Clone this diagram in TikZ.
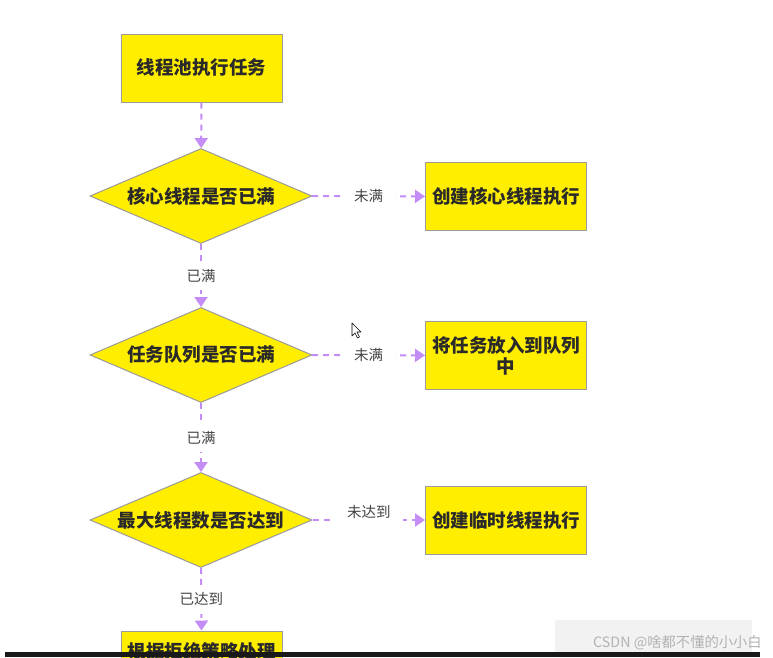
\documentclass[tikz,border=0pt]{standalone}
\usepackage{fontspec}
\newfontfamily\cjk{Noto Sans CJK SC}
\usetikzlibrary{shapes.geometric,arrows.meta}
\definecolor{boxyellow}{HTML}{FFEE00}
\definecolor{boxborder}{HTML}{9A9A9A}
\definecolor{arrowpurple}{HTML}{C48CF5}
\definecolor{textdark}{HTML}{2A2A2A}
\definecolor{labgray}{HTML}{444444}
\tikzset{
  box/.style={draw=boxborder, line width=1pt, fill=boxyellow, minimum width=161pt, minimum height=68pt, inner sep=2pt, text width=152pt, align=center, font=\cjk\bfseries\fontsize{18.5}{21}\selectfont, text=textdark},
  dia/.style={shape=diamond, draw=boxborder, line width=1pt, fill=boxyellow, minimum width=222pt, minimum height=95pt, inner sep=0pt, aspect=2.34, font=\cjk\bfseries\fontsize{18.5}{22}\selectfont, text=textdark},
  lab/.style={fill=white, inner xsep=12pt, inner ysep=8pt, font=\cjk\fontsize{14.5}{17}\selectfont, text=labgray},
  arr/.style={draw=arrowpurple, line width=2pt, dash pattern=on 6pt off 5pt, -{Triangle[width=13pt,length=10pt]}},
}
\begin{document}
\begin{tikzpicture}[x=1pt,y=-1pt]
\useasboundingbox (0,0) rectangle (773,657);
\fill[white] (0,0) rectangle (773,657);

\node[box] (start) at (201.5,68) {线程池执行任务};
\node[dia] (d1) at (201,196) {核心线程是否已满};
\node[dia] (d2) at (201,355) {任务队列是否已满};
\node[dia] (d3) at (201,520) {最大线程数是否达到};
\node[box] (b1) at (506,196.5) {创建核心线程执行};
\node[box] (b2) at (506,355.5) {将任务放入到队列\\中};
\node[box] (b3) at (506,520) {创建临时线程执行};
\node[box, minimum height=40pt] (b4) at (201.5,651) {根据拒绝策略处理};

\draw[arr] (start) -- (d1);
\draw[arr] (d1) -- node[lab] {已满} (d2);
\draw[arr] (d2) -- node[lab] {已满} (d3);
\draw[arr] (d3) -- node[lab] {已达到} (b4);
\draw[arr] (d1) -- node[lab] {未满} (b1);
\draw[arr] (d2) -- node[lab] {未满} (b2);
\draw[arr] (d3) -- node[lab, yshift=8pt, inner ysep=11pt] {未达到} (b3);

% mouse cursor
\draw[black, line width=0.6pt, fill=white, line join=round]
  (352,323) -- (352,336) -- (355,333) -- (357.5,338) -- (359.5,337) -- (357,332) -- (361,332) -- cycle;

% watermark
\fill[gray!10] (555,620) rectangle (752,652);
\node[anchor=west, inner sep=0pt, font=\cjk\fontsize{14.3}{17}\selectfont, text=gray!60] (wm) at (593,643) {CSDN @啥都不懂的小小白};

% bottom black bar
\fill[black!90] (5,652) rectangle (760,657);
\end{tikzpicture}
\end{document}
